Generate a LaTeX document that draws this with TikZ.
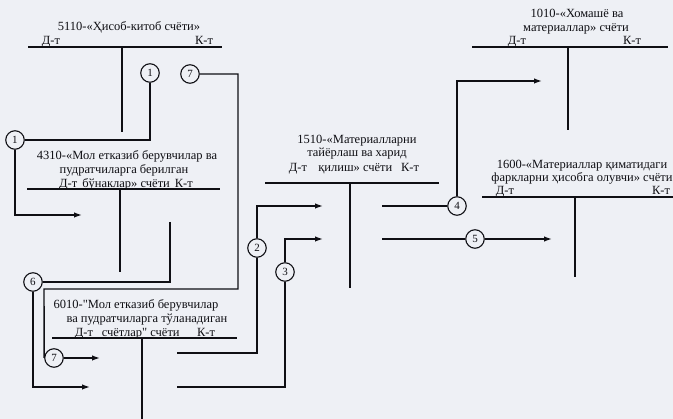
\documentclass[tikz,border=0pt]{standalone}
\usepackage{fontspec}
\setmainfont{Liberation Serif}
\usetikzlibrary{arrows.meta}
\definecolor{bg}{RGB}{238,240,245}
\definecolor{ink}{RGB}{15,15,20}
\begin{document}
\begin{tikzpicture}[x=1pt,y=-1pt,line width=1.2pt,
  num/.style={circle,draw=ink,line width=1.1pt,minimum size=18.5pt,inner sep=0pt,fill=bg,font=\fontsize{11}{11}\selectfont,text=ink},
  tl/.style={anchor=base,inner sep=0pt,font=\fontsize{12.5}{14}\selectfont,text=ink},
  acc/.style={draw=ink,line width=1.5pt},
  lnk/.style={draw=ink,line width=1.4pt},
  arr/.style={lnk,-{Latex[length=8pt,width=5.5pt]}}]
\fill[bg] (0,0) rectangle (673,419);
\useasboundingbox (0,0) rectangle (673,419);

% ---- 5110
\node[tl] (t5110) at (129,31) {5110-«Ҳисоб-китоб счёти»};
\node[tl] (d5110) at (51,45) {Д-т};
\node[tl] (k5110) at (204,45) {К-т};
\coordinate (l5110a) at (28,47); \coordinate (l5110b) at (222,47);
\coordinate (s5110a) at (122,47); \coordinate (s5110b) at (122,132);
\draw[acc] (l5110a) -- (l5110b); \draw[acc] (s5110a) -- (s5110b);

% ---- 4310
\node[tl] (t4310a) at (127,160) {4310-«Мол етказиб берувчилар ва};
\node[tl] (t4310b) at (124,174) {пудратчиларга берилган};
\node[tl] (t4310c) at (126,188) {Д-т\hspace{0.4em}бўнаклар» счёти\hspace{0.4em}К-т};
\coordinate (l4310a) at (27,189); \coordinate (l4310b) at (220,189);
\coordinate (s4310a) at (120,189); \coordinate (s4310b) at (120,272);
\draw[acc] (l4310a) -- (l4310b); \draw[acc] (s4310a) -- (s4310b);

% ---- 6010
\node[tl] (t6010a) at (136,309) {6010-\textquotedbl Мол етказиб берувчилар};
\node[tl] (t6010b) at (147,323) {ва пудратчиларга тўланадиган};
\node[tl] (t6010c) at (145,337) {Д-т\hspace{0.7em}счётлар\textquotedbl{} счёти\hspace{1.4em}К-т};
\coordinate (l6010a) at (52,338); \coordinate (l6010b) at (237,338);
\coordinate (s6010a) at (142,338); \coordinate (s6010b) at (142,419);
\draw[acc] (l6010a) -- (l6010b); \draw[acc] (s6010a) -- (s6010b);

% ---- 1510
\node[tl] (t1510a) at (357,144) {1510-«Материалларни};
\node[tl] (t1510b) at (357,157) {тайёрлаш ва харид};
\node[tl] (t1510c) at (354,172) {Д-т\hspace{0.9em}қилиш» счёти\hspace{0.7em}К-т};
\coordinate (l1510a) at (265,183); \coordinate (l1510b) at (439,183);
\coordinate (s1510a) at (350,183); \coordinate (s1510b) at (350,288);
\draw[acc] (l1510a) -- (l1510b); \draw[acc] (s1510a) -- (s1510b);

% ---- 1010
\node[tl] (t1010a) at (577,18) {1010-«Хомашё ва};
\node[tl] (t1010b) at (576,32) {материаллар» счёти};
\node[tl] (d1010) at (517,45) {Д-т};
\node[tl] (k1010) at (632,45) {К-т};
\coordinate (l1010a) at (472,47); \coordinate (l1010b) at (668,47);
\coordinate (s1010a) at (568,47); \coordinate (s1010b) at (568,130);
\draw[acc] (l1010a) -- (l1010b); \draw[acc] (s1010a) -- (s1010b);

% ---- 1600
\node[tl] (t1600a) at (582,169) {1600-«Материаллар қиматидаги};
\node[tl] (t1600b) at (582,182) {фаркларни ҳисобга олувчи» счёти};
\node[tl] (d1600) at (505,195) {Д-т};
\node[tl] (k1600) at (661,195) {К-т};
\coordinate (l1600a) at (482,197); \coordinate (l1600b) at (673,197);
\coordinate (s1600a) at (575,197); \coordinate (s1600b) at (575,277);
\draw[acc] (l1600a) -- (l1600b); \draw[acc] (s1600a) -- (s1600b);

% ---- numbered circles
\node[num] (c1a) at (150,73) {1};
\node[num] (c1b) at (15,140) {1};
\node[num] (c7a) at (190,74) {7};
\node[num] (c7b) at (54,358) {7};
\node[num] (c6) at (33,282) {6};
\node[num] (c2) at (257,248) {2};
\node[num] (c3) at (285,272) {3};
\node[num] (c4) at (457,206) {4};
\node[num] (c5) at (475,239) {5};

% ---- connectors
% 1
\coordinate (e1) at (82,215);
\draw[lnk] (c1a) |- (c1b);
\draw[arr] (c1b) |- (e1);
% 7
\coordinate (k7a) at (238,289);
\coordinate (k7b) at (44,289);
\coordinate (e7) at (100,358);
\draw[lnk] (c7a) -| (k7a) -- (k7b) -- (c7b.west);
\draw[arr] (c7b) -- (e7);
% 6
\coordinate (s6) at (170,222);
\coordinate (e6) at (90,387);
\draw[lnk] (s6) |- (c6);
\draw[arr] (c6) |- (e6);
% 2
\coordinate (s2) at (177,353);
\coordinate (e2) at (323,206);
\draw[lnk] (s2) -| (c2);
\draw[arr] (c2) |- (e2);
% 3
\coordinate (s3) at (177,387);
\coordinate (e3) at (323,239);
\draw[lnk] (s3) -| (c3);
\draw[arr] (c3) |- (e3);
% 4
\coordinate (s4) at (382,206);
\coordinate (e4) at (542,81);
\draw[lnk] (s4) -- (c4);
\draw[arr] (c4) |- (e4);
% 5
\coordinate (s5) at (382,239);
\coordinate (e5) at (552,239);
\draw[lnk] (s5) -- (c5);
\draw[arr] (c5) -- (e5);
\end{tikzpicture}
\end{document}
